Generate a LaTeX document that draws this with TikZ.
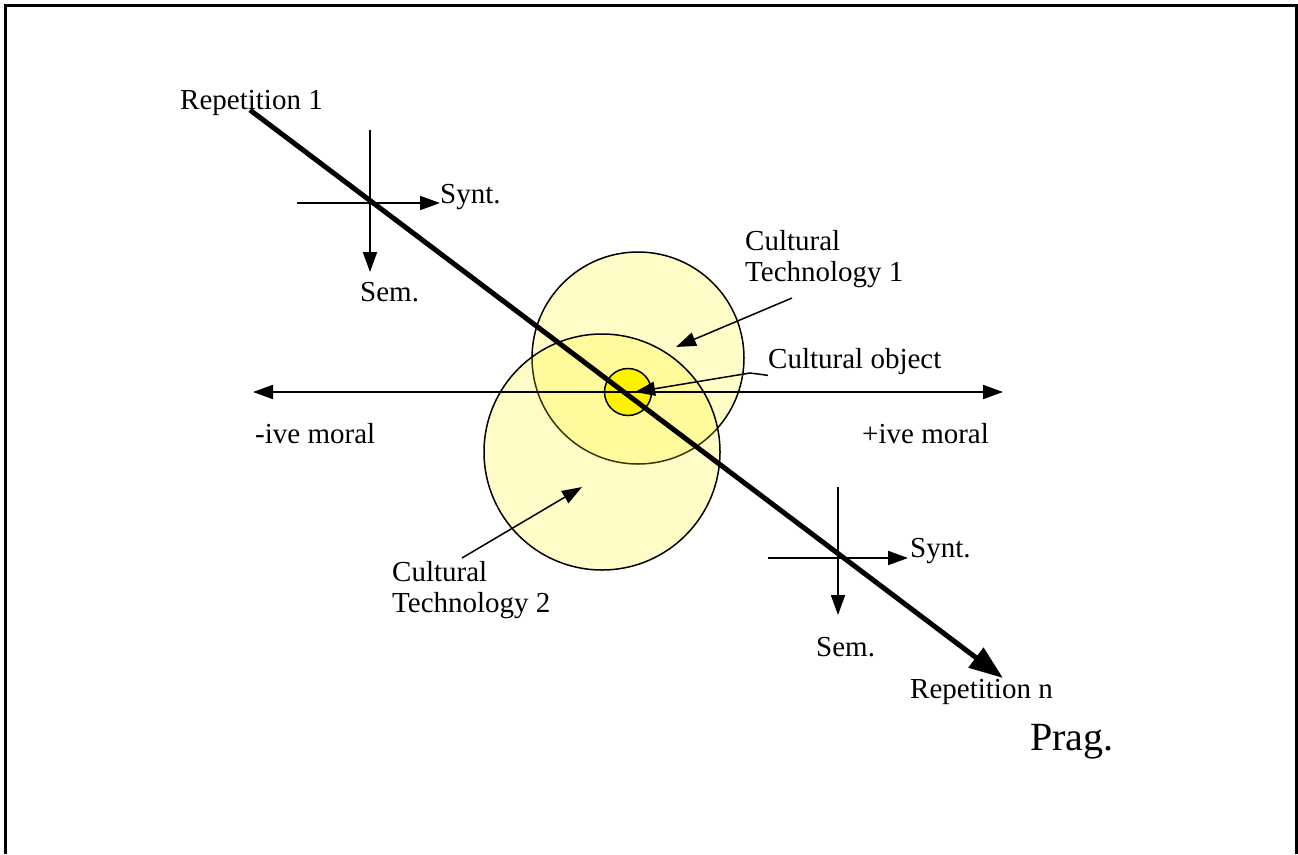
\documentclass[tikz,border=0pt]{standalone}
\usepackage{fontspec}
\setmainfont{Liberation Serif}
\usetikzlibrary{positioning, arrows.meta}

\begin{document}
\begin{tikzpicture}[
    x=1pt, y=-1pt,
    font=\fontsize{29}{31}\selectfont,
    >={Triangle[length=20pt, width=14pt]},
    lbl/.style={inner sep=0pt, anchor=west, align=left},
    axis/.style={<->, line width=2pt},
    thinarrow/.style={->, line width=2pt},
    bigarrow/.style={-{Triangle[length=34pt, width=24pt]}, line width=5pt},
    pointer/.style={->, line width=1.5pt},
    techcircle/.style={
        circle,
        draw=black,
        line width=1.5pt,
        fill=yellow,
        fill opacity=0.22,
        inner sep=0pt
    },
    objcircle/.style={circle, draw=black, line width=1.5pt, fill=yellow, inner sep=0pt}
]

\useasboundingbox (0,0) rectangle (1298,854);
\draw[line width=3pt] (5,854) -- (5,5) -- (1296,5) -- (1296,854);

% the two technologies and the object
\node[techcircle, minimum size=212pt] (tech1) at (638,358) {};
\node[techcircle, minimum size=236pt] (tech2) at (602,452) {};
\node[objcircle, minimum size=47pt] (object) at (628,392) {};

% moral axis
\coordinate (negend) at (253,392);
\coordinate (posend) at (1003,392);
\draw[axis] (negend) -- (posend);
\node[lbl] (negmoral) at (255,434) {-ive moral};
\node[lbl] (posmoral) at (862,434) {+ive moral};

% repetition axis
\coordinate (repstart) at (250,110);
\coordinate (repend) at (1003,678);
\draw[bigarrow] (repstart) -- (repend);
\node[lbl] (rep1) at (180,103) {Repetition 1};
\node[lbl] (repn) at (910,692) {Repetition n};
\node[lbl, font=\fontsize{40}{44}\selectfont] (prag) at (1030,742) {Prag.};

% first cross
\coordinate (crossAtop) at (370,130);
\coordinate (crossAsem) at (370,272);
\coordinate (crossAleft) at (297,203);
\coordinate (crossAsynt) at (440,203);
\draw[thinarrow] (crossAtop) -- (crossAsem);
\draw[thinarrow] (crossAleft) -- (crossAsynt);
\node[lbl] (syntA) at (440,197) {Synt.};
\node[lbl] (semA) at (360,292) {Sem.};

% second cross
\coordinate (crossBtop) at (838,487);
\coordinate (crossBsem) at (838,615);
\coordinate (crossBleft) at (768,558);
\coordinate (crossBsynt) at (908,558);
\draw[thinarrow] (crossBtop) -- (crossBsem);
\draw[thinarrow] (crossBleft) -- (crossBsynt);
\node[lbl] (syntB) at (910,551) {Synt.};
\node[lbl] (semB) at (816,647) {Sem.};

% callouts
\node[lbl] (techlbl1) at (745,259) {Cultural\\Technology 1};
\coordinate (tech1tail) at (792,298);
\coordinate (tech1tip) at (676,347);
\draw[pointer] (tech1tail) -- (tech1tip);

\node[lbl] (objlbl) at (768,362) {Cultural object};
\coordinate (objbend) at (750,373);
\coordinate (objtip) at (635,392);
\draw[pointer] (objlbl.south west) -- (objbend) -- (objtip);

\node[lbl] (techlbl2) at (392,590) {Cultural\\Technology 2};
\coordinate (tech2tail) at (462,558);
\coordinate (tech2tip) at (582,487);
\draw[pointer] (tech2tail) -- (tech2tip);

\end{tikzpicture}
\end{document}
